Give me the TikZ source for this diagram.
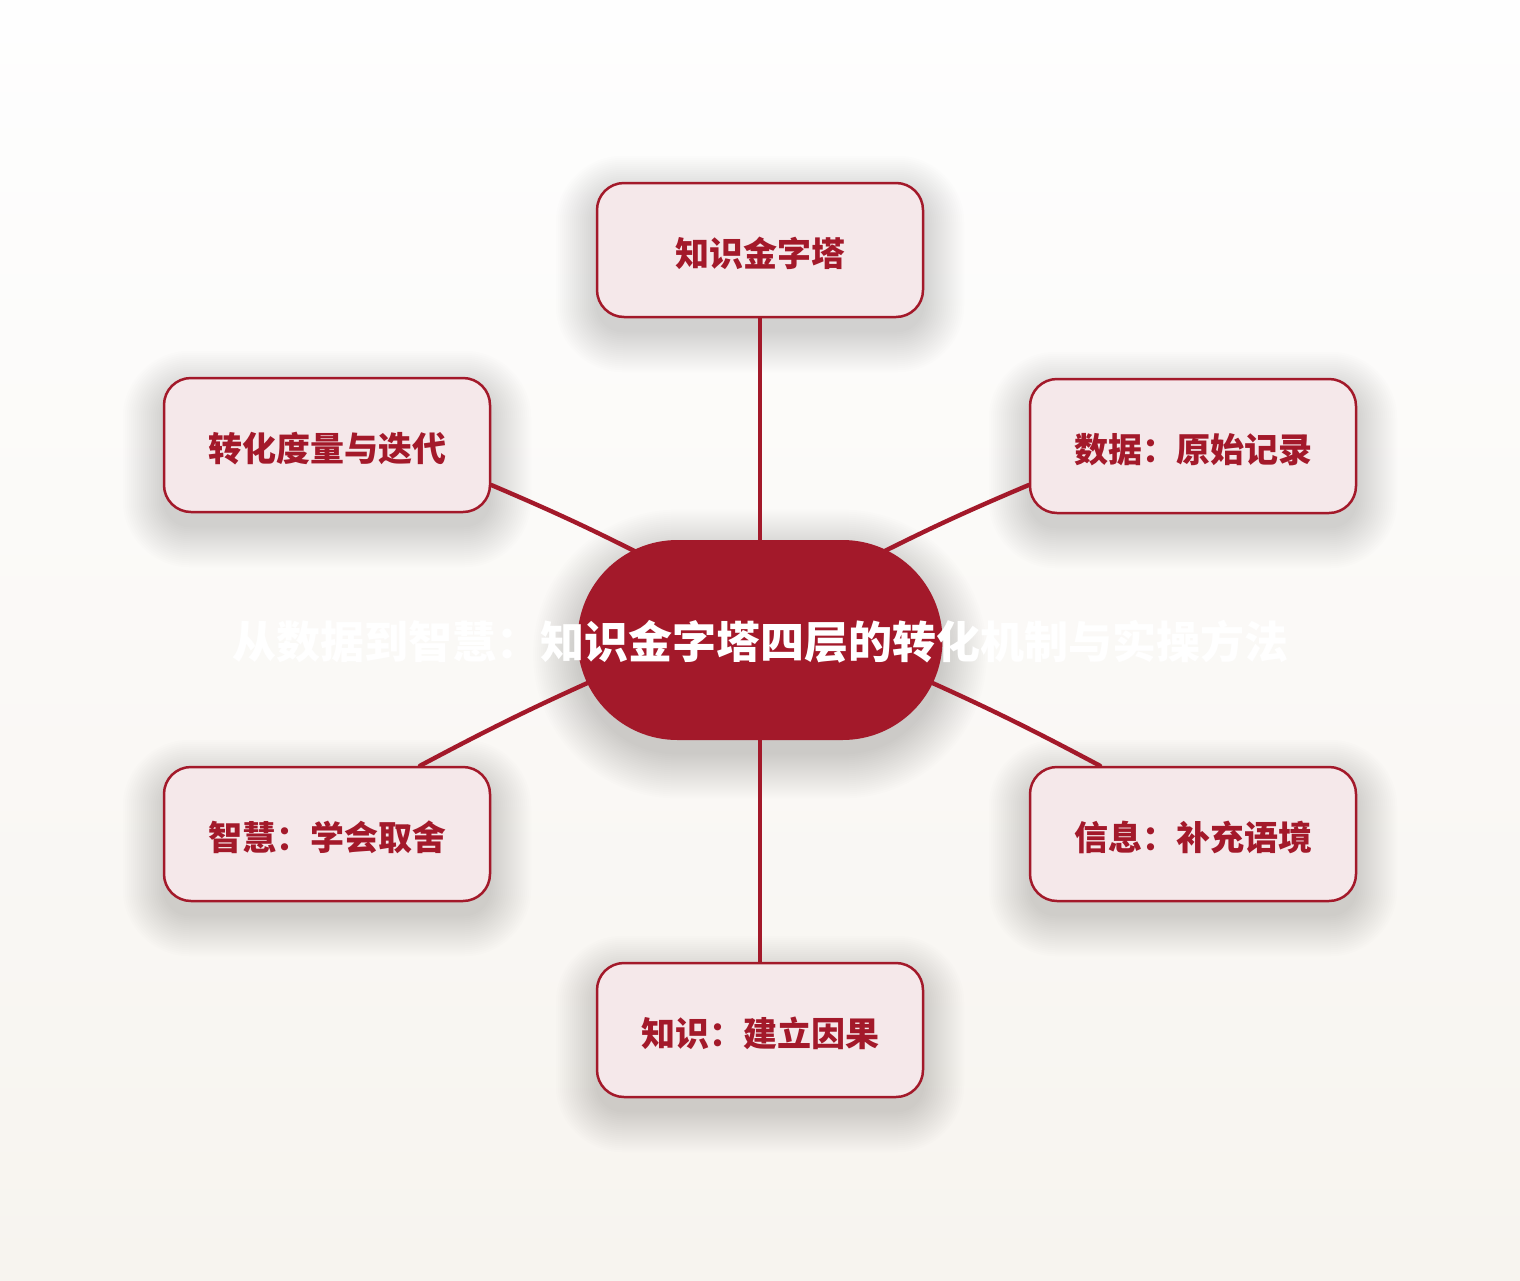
\documentclass[tikz,border=0pt]{standalone}
\usepackage{fontspec}
\newfontfamily\cjk{Noto Sans CJK SC}
\usetikzlibrary{calc}
\definecolor{deepred}{HTML}{A3192A}
\definecolor{boxfill}{HTML}{F5E8EA}
\definecolor{bgtop}{HTML}{FEFEFE}
\definecolor{bgbot}{HTML}{F7F4EF}
\pgfdeclarelayer{bglayer}
\pgfdeclarelayer{shadowlayer}
\pgfdeclarelayer{linklayer}
\pgfsetlayers{bglayer,shadowlayer,linklayer,main}
\tikzset{
  leaf/.style={draw=deepred, line width=1.25pt, fill=boxfill, rounded corners=13.5pt,
    minimum width=163pt, minimum height=67pt, inner sep=0pt, text height=18pt, text depth=2pt,
    font=\cjk\bfseries\fontsize{17pt}{20pt}\selectfont, text=deepred},
  hub/.style={fill=deepred, rounded corners=50pt, minimum width=182.5pt, minimum height=100pt, inner sep=0pt},
  hubtext/.style={font=\cjk\bfseries\fontsize{22pt}{26pt}\selectfont, text=white, inner sep=0pt},
  link/.style={draw=deepred, line width=2.2pt, line cap=round},
  shadowpiece/.style={fill=black, opacity=0.0085},
}
\begin{document}
\begin{tikzpicture}[x=0.5pt,y=-0.5pt]
\useasboundingbox (0,0) rectangle (1520,1280);
\begin{pgfonlayer}{bglayer}
\shade[top color=bgtop, bottom color=bgbot] (0,0) rectangle (1520,1280);
\end{pgfonlayer}
\node[leaf] (top) at (760,250) {知识金字塔};
\node[leaf] (lu) at (327,445) {转化度量与迭代};
\node[leaf] (ru) at (1193,446) {数据：原始记录};
\node[leaf] (ll) at (327,834) {智慧：学会取舍};
\node[leaf] (rl) at (1193,834) {信息：补充语境};
\node[leaf] (bot) at (760,1030) {知识：建立因果};
\node[hub] (center) at (760,640) {};
\node[hubtext] (title) at (760,642) {从数据到智慧：知识金字塔四层的转化机制与实操方法};
\coordinate (e1) at ($(center)+(-102,-77)$);
\coordinate (e2) at ($(center)+(101,-77)$);
\coordinate (e3) at ($(center)+(-148,32)$);
\coordinate (e4) at ($(center)+(148,32)$);
\begin{pgfonlayer}{shadowlayer}
\foreach \n in {top,lu,ru,ll,rl,bot}{
  \foreach \k in {0,...,20}{
    \pgfmathsetmacro\rr{13.5+\k}
    \fill[shadowpiece, rounded corners=\rr pt]
      ($(\n.south west)+(-2*\k,14+2*\k)$) rectangle ($(\n.north east)+(2*\k,14-2*\k)$);
  }
}
\foreach \k in {0,...,22}{
  \pgfmathsetmacro\rr{50+\k}
  \fill[shadowpiece, opacity=0.0095, rounded corners=\rr pt]
    ($(center.south west)+(-2*\k,14+2*\k)$) rectangle ($(center.north east)+(2*\k,14-2*\k)$);
}
\end{pgfonlayer}
\begin{pgfonlayer}{linklayer}
\draw[link] (top.south) -- (center.north);
\draw[link] (center.south) -- (bot.north);
\draw[link] ($(lu.east)+(0,40)$) to[bend left=2] (e1);
\draw[link] ($(ru.west)+(0,39)$) to[bend right=2] (e2);
\draw[link] ($(ll.north)+(93,0)$) to[bend left=2] (e3);
\draw[link] ($(rl.north)+(-93,0)$) to[bend right=2] (e4);
\end{pgfonlayer}
\end{tikzpicture}
\end{document}
